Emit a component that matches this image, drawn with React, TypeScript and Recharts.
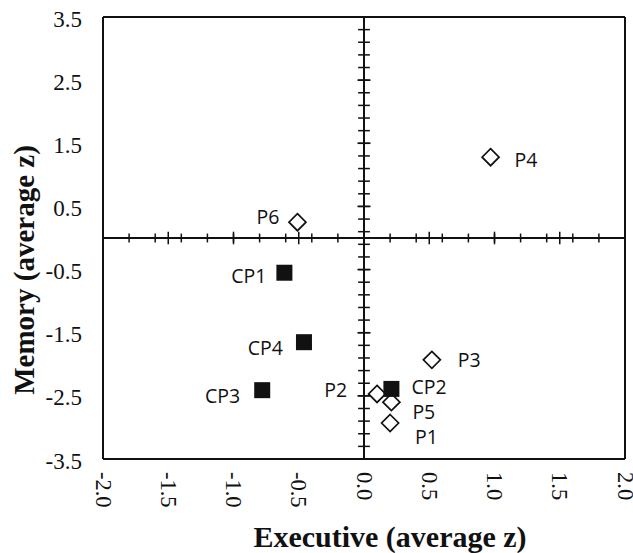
import React from 'react';
import {
  ScatterChart,
  Scatter,
  XAxis,
  YAxis,
  ReferenceLine,
} from 'recharts';

// Patients (open diamonds)
const patientNames = ['P1', 'P2', 'P3', 'P4', 'P5', 'P6'];
const patientExecutive = [0.2, 0.1, 0.52, 0.97, 0.21, -0.51];
const patientMemory = [-2.93, -2.47, -1.93, 1.28, -2.6, 0.25];

// Control participants (filled squares)
const controlNames = ['CP1', 'CP2', 'CP3', 'CP4'];
const controlExecutive = [-0.61, 0.21, -0.78, -0.46];
const controlMemory = [-0.55, -2.39, -2.41, -1.65];

// Axis labels
const xTicks = [-2, -1.5, -1, -0.5, 0, 0.5, 1, 1.5, 2];
const yTicks = [-3.5, -2.5, -1.5, -0.5, 0.5, 1.5, 2.5, 3.5];

const X_MIN = -2;
const X_MAX = 2;
const Y_MIN = -3.5;
const Y_MAX = 3.5;

// Tick marks drawn across the zero axes
const xMinorStep = 0.2;
const xMajorStep = 0.5;
const yMinorStep = 0.2;
const yMajorStep = 1;

const patients = patientNames.map((name, i) => ({
  name,
  x: patientExecutive[i],
  y: patientMemory[i],
}));
const controls = controlNames.map((name, i) => ({
  name,
  x: controlExecutive[i],
  y: controlMemory[i],
}));

// Where each point's name sits relative to its marker
const labelPlacement: Record<string, { dx: number; dy: number; anchor: 'start' | 'end' }> = {
  P1: { dx: 25, dy: 13, anchor: 'start' },
  P2: { dx: -30, dy: -4, anchor: 'end' },
  P3: { dx: 26, dy: 0, anchor: 'start' },
  P4: { dx: 24, dy: 2, anchor: 'start' },
  P5: { dx: 21, dy: 9, anchor: 'start' },
  P6: { dx: -18, dy: -6, anchor: 'end' },
  CP1: { dx: -18, dy: 3, anchor: 'end' },
  CP2: { dx: 20, dy: -2, anchor: 'start' },
  CP3: { dx: -22, dy: 5, anchor: 'end' },
  CP4: { dx: -21, dy: 5, anchor: 'end' },
};

const serif = '"Liberation Serif", "Times New Roman", serif';
const sans = '"Open Sans", "Noto Sans", sans-serif';
const ink = '#111';

const steps = (min: number, max: number, step: number) => {
  const out: number[] = [];
  const n = Math.round((max - min) / step);
  for (let k = 0; k <= n; k++) out.push(+(min + k * step).toFixed(4));
  return out;
};

const PointLabel = ({ cx, cy, name }: { cx: number; cy: number; name: string }) => {
  const p = labelPlacement[name];
  return (
    <text
      x={cx + p.dx}
      y={cy + p.dy}
      textAnchor={p.anchor}
      dominantBaseline="central"
      fontFamily={sans}
      fontSize={19.5}
      fill={ink}
    >
      {name}
    </text>
  );
};

const DiamondShape = (props: any) => {
  const { cx, cy, payload } = props;
  const r = 8.5;
  return (
    <g>
      <polygon
        points={`${cx},${cy - r} ${cx + r},${cy} ${cx},${cy + r} ${cx - r},${cy}`}
        fill="#fff"
        stroke={ink}
        strokeWidth={1.7}
      />
      <PointLabel cx={cx} cy={cy} name={payload.name} />
    </g>
  );
};

const SquareShape = (props: any) => {
  const { cx, cy, payload } = props;
  const s = 16;
  return (
    <g>
      <rect x={cx - s / 2} y={cy - s / 2} width={s} height={s} fill={ink} />
      <PointLabel cx={cx} cy={cy} name={payload.name} />
    </g>
  );
};

const XTick = (props: any) => {
  const { x, y, payload } = props;
  const tx = x;
  const ty = y + 13;
  return (
    <text
      x={tx}
      y={ty}
      transform={`rotate(90 ${tx} ${ty})`}
      textAnchor="start"
      dominantBaseline="central"
      fontFamily={serif}
      fontSize={22.5}
      fill={ink}
    >
      {Number(payload.value).toFixed(1)}
    </text>
  );
};

const YTick = (props: any) => {
  const { x, y, payload } = props;
  return (
    <text
      x={x - 21}
      y={y + 2}
      textAnchor="end"
      dominantBaseline="central"
      fontFamily={serif}
      fontSize={23}
      fill={ink}
    >
      {Number(payload.value).toFixed(1)}
    </text>
  );
};

const XTitle = (props: any) => {
  const { viewBox } = props;
  const cx = viewBox.x + viewBox.width / 2 + 26;
  return (
    <text
      x={cx}
      y={536}
      textAnchor="middle"
      dominantBaseline="central"
      fontFamily={serif}
      fontWeight="bold"
      fontSize={30}
      fill={ink}
    >
      Executive (average z)
    </text>
  );
};

const YTitle = (props: any) => {
  const { viewBox } = props;
  const cy = viewBox.y + viewBox.height / 2 + 32;
  const cx = 24;
  return (
    <text
      x={cx}
      y={cy}
      transform={`rotate(-90 ${cx} ${cy})`}
      textAnchor="middle"
      dominantBaseline="central"
      fontFamily={serif}
      fontWeight="bold"
      fontSize={29}
      fill={ink}
    >
      Memory (average z)
    </text>
  );
};

export default function App() {
  const xMinor = steps(X_MIN, X_MAX, xMinorStep);
  const xMajor = steps(X_MIN, X_MAX, xMajorStep);
  const yMinor = steps(Y_MIN, Y_MAX, yMinorStep);
  const yMajor = steps(Y_MIN, Y_MAX, yMajorStep);

  // tick half-lengths in data units
  const xAxisMinorHalf = 0.07;
  const xAxisMajorHalf = 0.1;
  const yAxisMinorHalf = 0.045;
  const yAxisMajorHalf = 0.05;

  return (
    <div style={{ position: 'absolute', left: 0, top: 0, background: '#fff' }}>
      <ScatterChart
        width={633}
        height={553}
        margin={{ top: 17, right: 8, bottom: 0, left: 0 }}
      >
        <XAxis
          type="number"
          dataKey="x"
          domain={[X_MIN, X_MAX]}
          ticks={xTicks}
          height={94}
          axisLine={false}
          tickLine={false}
          tickSize={0}
          tickMargin={0}
          tick={<XTick />}
          interval={0}
          allowDataOverflow
          label={<XTitle />}
        />
        <YAxis
          type="number"
          dataKey="y"
          domain={[Y_MIN, Y_MAX]}
          ticks={yTicks}
          width={103}
          axisLine={false}
          tickLine={false}
          tickSize={0}
          tickMargin={0}
          tick={<YTick />}
          interval={0}
          allowDataOverflow
          label={<YTitle />}
        />

        {/* plot frame */}
        <ReferenceLine x={X_MIN} stroke={ink} strokeWidth={2} ifOverflow="visible" />
        <ReferenceLine x={X_MAX} stroke={ink} strokeWidth={2} ifOverflow="visible" />
        <ReferenceLine y={Y_MIN} stroke={ink} strokeWidth={2} ifOverflow="visible" />
        <ReferenceLine y={Y_MAX} stroke={ink} strokeWidth={2} ifOverflow="visible" />

        {/* axes crossing at zero */}
        <ReferenceLine x={0} stroke={ink} strokeWidth={2} ifOverflow="visible" />
        <ReferenceLine y={0} stroke={ink} strokeWidth={2} ifOverflow="visible" />

        {/* cross tick marks on the horizontal zero axis */}
        {xMinor.map((v) => (
          <ReferenceLine
            key={`xm-${v}`}
            segment={[{ x: v, y: -xAxisMinorHalf }, { x: v, y: xAxisMinorHalf }]}
            stroke={ink}
            strokeWidth={1.5}
            ifOverflow="visible"
          />
        ))}
        {xMajor.map((v) => (
          <ReferenceLine
            key={`xM-${v}`}
            segment={[{ x: v, y: -xAxisMajorHalf }, { x: v, y: xAxisMajorHalf }]}
            stroke={ink}
            strokeWidth={1.5}
            ifOverflow="visible"
          />
        ))}

        {/* cross tick marks on the vertical zero axis */}
        {yMinor.map((v) => (
          <ReferenceLine
            key={`ym-${v}`}
            segment={[{ x: -yAxisMinorHalf, y: v }, { x: yAxisMinorHalf, y: v }]}
            stroke={ink}
            strokeWidth={1.5}
            ifOverflow="visible"
          />
        ))}
        {yMajor.map((v) => (
          <ReferenceLine
            key={`yM-${v}`}
            segment={[{ x: -yAxisMajorHalf, y: v }, { x: yAxisMajorHalf, y: v }]}
            stroke={ink}
            strokeWidth={1.5}
            ifOverflow="visible"
          />
        ))}

        <Scatter
          name="Patients"
          data={patients}
          shape={<DiamondShape />}
          isAnimationActive={false}
        />
        <Scatter
          name="Controls"
          data={controls}
          shape={<SquareShape />}
          isAnimationActive={false}
        />
      </ScatterChart>
    </div>
  );
}
